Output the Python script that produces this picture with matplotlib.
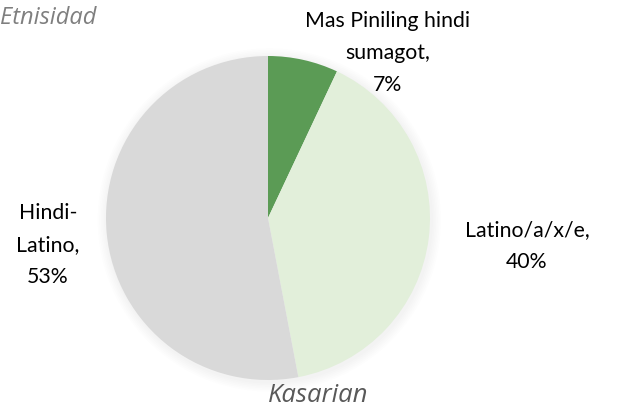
import matplotlib
matplotlib.use("Agg")
import matplotlib.pyplot as plt
from matplotlib.patches import Circle

categories = ["Mas Piniling hindi\nsumagot,", "Latino/a/x/e,", "Hindi-\nLatino,"]
values = [7, 40, 53]
colors = ["#5b9b55", "#e2efda", "#d9d9d9"]

W, H = 618, 412
fig = plt.figure(figsize=(W / 100, H / 100), dpi=100)
cx, cy, r = 268, 218, 162
pad = 1.15
ax = fig.add_axes([(cx - r * pad) / W, (H - cy - r * pad) / H, 2 * r * pad / W, 2 * r * pad / H])
# soft shadow
for i in range(6):
    ax.add_patch(Circle((0.008, -0.012), 1 + 0.01 * (i + 1), color="#000000",
                        alpha=0.008, lw=0, zorder=0))
wedges, _ = ax.pie(values, colors=colors, startangle=90, counterclock=False,
                   radius=1, wedgeprops=dict(linewidth=0, zorder=2))
ax.set_xlim(-pad, pad)
ax.set_ylim(-pad, pad)
ax.set_aspect("equal")
ax.axis("off")

font = "Lato"
lbl = dict(fontsize=15.3, color="#000000", family=font, ha="center", va="center", linespacing=1.75)
pos = [(388, 53), (527, 246), (48, 245)]
for (x, y), c, v in zip(pos, categories, values):
    fig.text(x / W, 1 - y / H, f"{c}\n{v}%", **lbl)

fig.text(0 / W, 1 - 18 / H, "Etnisidad", fontsize=17, style="italic", color="#7f7f7f",
         family="Open Sans", ha="left", va="center")
fig.text(318 / W, 1 - 396 / H, "Kasarian", fontsize=18.5, style="italic", color="#595959",
         family="Open Sans", ha="center", va="center")

fig.savefig("out.png", dpi=100)
